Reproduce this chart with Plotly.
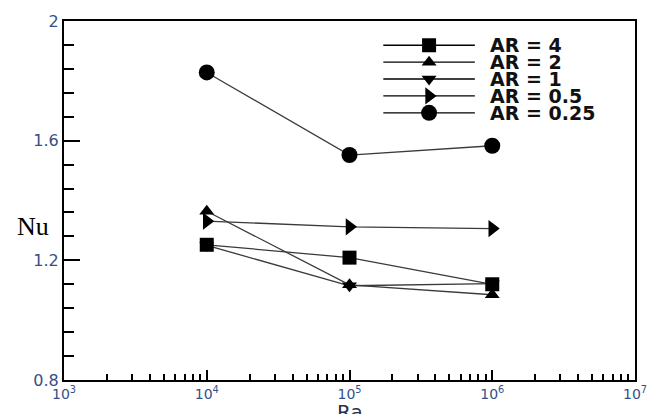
import plotly.graph_objects as go

# Rayleigh numbers and mean Nusselt numbers per aspect ratio
ra = [1e4, 1e5, 1e6]
nu_ar4 = [1.252, 1.209, 1.120]
nu_ar2 = [1.364, 1.118, 1.085]
nu_ar1 = [1.250, 1.115, 1.122]
nu_ar05 = [1.331, 1.312, 1.306]
nu_ar025 = [1.828, 1.552, 1.583]

series_names = ["AR = 4", "AR = 2", "AR = 1", "AR = 0.5", "AR = 0.25"]
x_tick_vals = [1e3, 1e4, 1e5, 1e6, 1e7]
x_tick_text = ["10<sup>3</sup>", "10<sup>4</sup>", "10<sup>5</sup>", "10<sup>6</sup>", "10<sup>7</sup>"]
y_tick_vals = [0.8, 1.2, 1.6, 2.0]
y_tick_text = ["0.8", "1.2", "1.6", "2"]

W, H = 659, 414
ML, MR, MT, MB = 64, 21, 17, 27

line_col = "#3a3a3a"
label_col = "#34508a"

styles = [
    ("square", 14),
    ("triangle-up", 13),
    ("triangle-down", 13),
    ("triangle-right", 15),
    ("circle", 16),
]
data = [nu_ar4, nu_ar2, nu_ar1, nu_ar05, nu_ar025]

fig = go.Figure()

# draw AR=1 first so the squares sit on top of it
order = [2, 1, 0, 3, 4]
for i in order:
    sym, sz = styles[i]
    fig.add_trace(go.Scatter(
        x=ra, y=data[i], mode="lines+markers", name=series_names[i],
        line=dict(color=line_col, width=1.3),
        marker=dict(symbol=sym, size=sz, color="black"),
        showlegend=False,
    ))

# legend block drawn on a pixel-scaled overlay axis
leg_x0, leg_x1, leg_xm, leg_tx = 385, 477, 431, 490
leg_y0, leg_dy = 42, 17.4
for k, (name, (sym, sz)) in enumerate(zip(series_names, styles)):
    yy = leg_y0 + k * leg_dy
    fig.add_trace(go.Scatter(
        x=[leg_x0, leg_x1], y=[yy, yy], mode="lines",
        line=dict(color="black", width=1.3),
        xaxis="x2", yaxis="y2", showlegend=False, hoverinfo="skip",
    ))
    fig.add_trace(go.Scatter(
        x=[leg_xm], y=[yy], mode="markers",
        marker=dict(symbol=sym, size=sz, color="black"),
        xaxis="x2", yaxis="y2", showlegend=False, hoverinfo="skip",
    ))
    fig.add_annotation(
        x=leg_tx, y=yy, xref="x2", yref="y2", text=name, showarrow=False,
        xanchor="left", yanchor="middle",
        font=dict(family="DejaVu Sans", size=19, color="#111111", weight="bold"),
    )

fig.update_layout(
    width=W, height=H,
    margin=dict(l=ML, r=MR, t=MT, b=MB),
    paper_bgcolor="white", plot_bgcolor="white",
    showlegend=False,
    xaxis=dict(
        type="log", range=[3, 7],
        tickvals=x_tick_vals, ticktext=x_tick_text,
        ticks="inside", ticklen=10, tickwidth=1.5, tickcolor="black",
        minor=dict(ticks="inside", ticklen=6, tickwidth=1.5, tickcolor="black", dtick="D1"),
        showline=True, linecolor="black", linewidth=2, mirror=True,
        showgrid=False, zeroline=False,
        tickfont=dict(family="DejaVu Sans", size=14, color=label_col),
    ),
    yaxis=dict(
        range=[0.8, 2.0],
        tickvals=y_tick_vals, ticktext=y_tick_text,
        ticks="inside", ticklen=16, tickwidth=1.5, tickcolor="black",
        minor=dict(ticks="inside", ticklen=10, tickwidth=1.5, tickcolor="black", dtick=0.08, tick0=0.8),
        showline=True, linecolor="black", linewidth=2, mirror=True,
        showgrid=False, zeroline=False,
        tickfont=dict(family="DejaVu Sans", size=16, color=label_col),
    ),
    xaxis2=dict(range=[ML, W - MR], overlaying="x", visible=False, fixedrange=True),
    yaxis2=dict(range=[H - MB, MT], overlaying="y", visible=False, fixedrange=True),
)

# axis titles
fig.add_annotation(
    x=-0.055, y=0.428, xref="paper", yref="paper", text="Nu", showarrow=False,
    xanchor="center", yanchor="middle",
    font=dict(family="Liberation Serif", size=26, color="black"),
)
fig.add_annotation(
    x=0.5, y=-0.05, xref="paper", yref="paper", text="Ra", showarrow=False,
    xanchor="center", yanchor="top",
    font=dict(family="DejaVu Sans", size=20, color="#2a3050"),
)

fig.write_html("out.html")
